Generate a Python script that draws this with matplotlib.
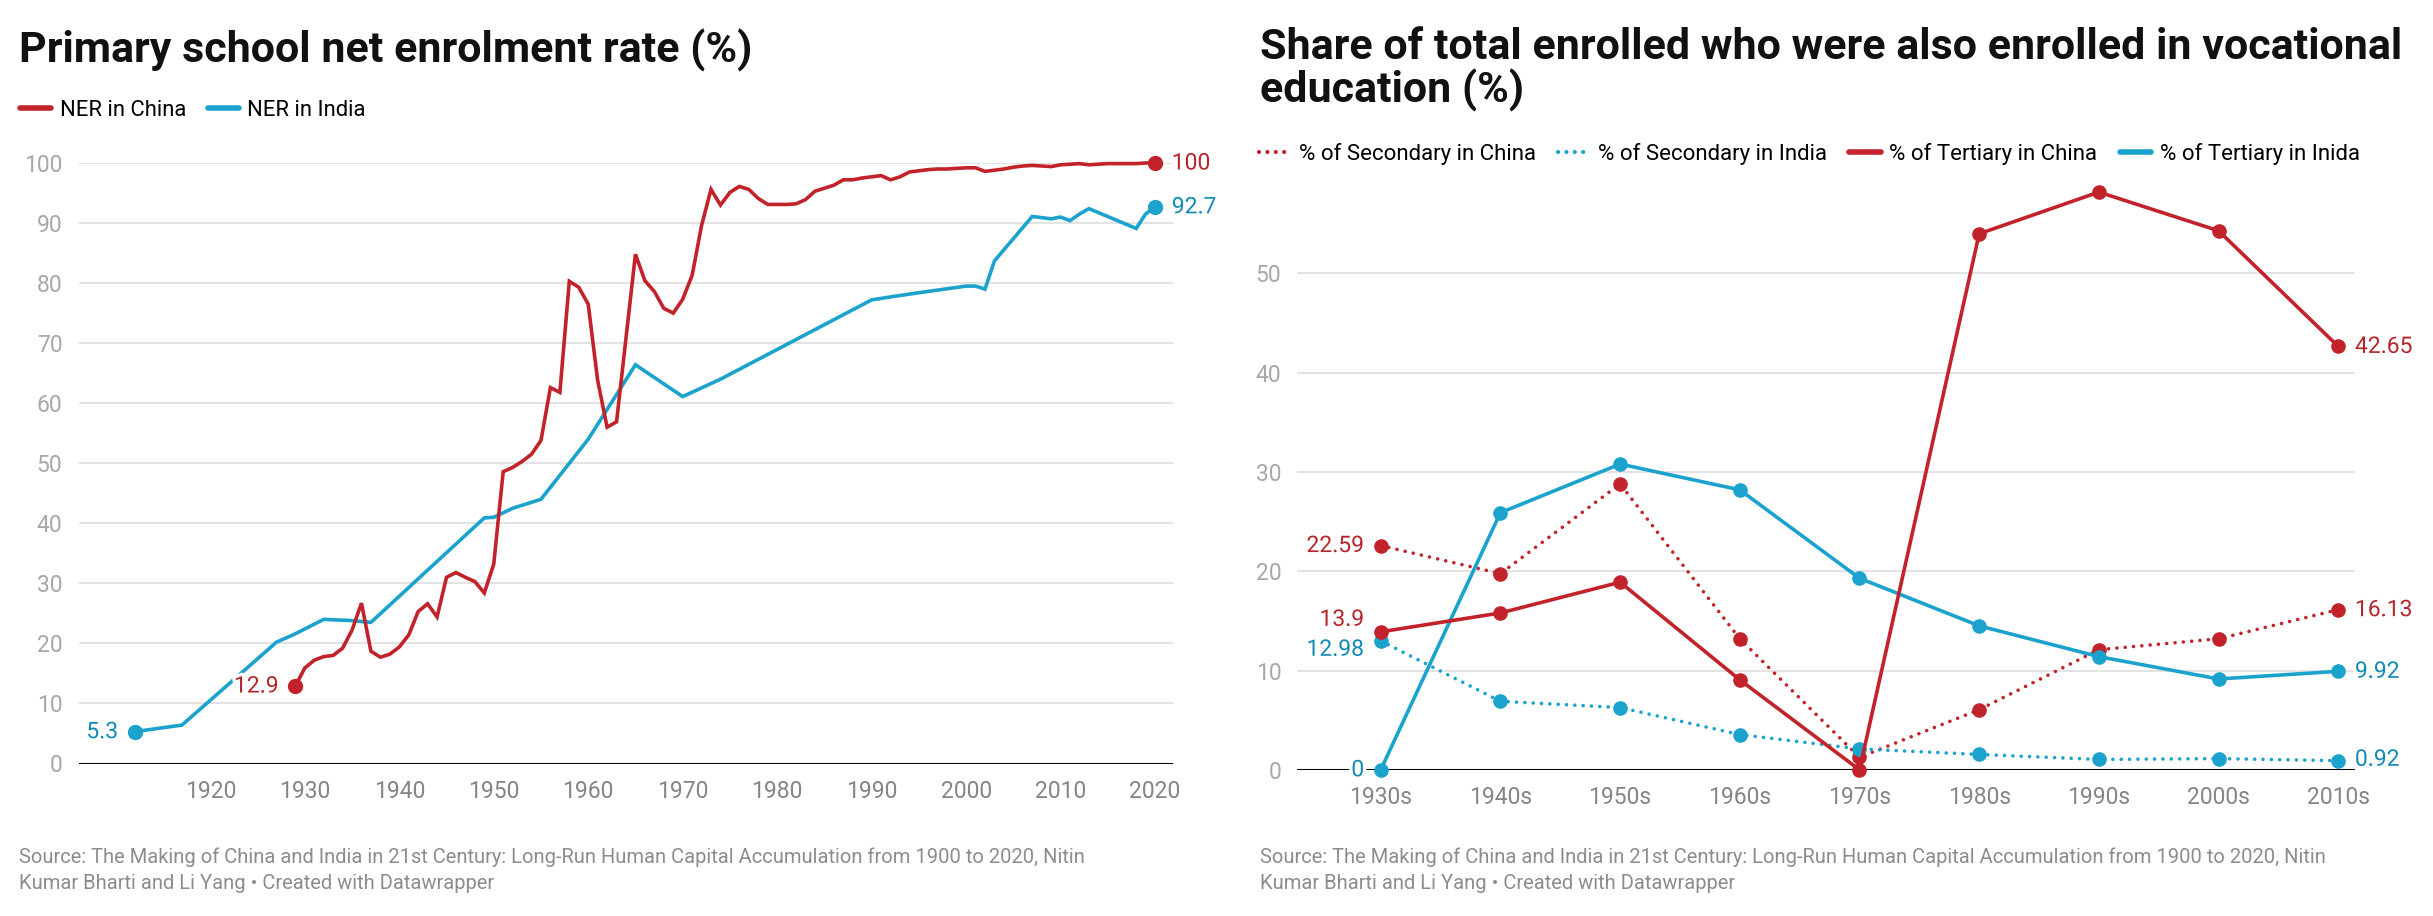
import matplotlib
matplotlib.use("Agg")
import matplotlib.pyplot as plt
import matplotlib.patheffects as pe
from matplotlib.lines import Line2D

# ---- data: primary school net enrolment rate (%) ----
china_years = [1929, 1930, 1931, 1932, 1933, 1934, 1935, 1936, 1937, 1938,
               1939, 1940, 1941, 1942, 1943, 1944, 1945, 1946, 1947, 1948,
               1949, 1950, 1951, 1952, 1953, 1954, 1955, 1956, 1957, 1958,
               1959, 1960, 1961, 1962, 1963, 1965, 1966, 1967, 1968, 1969,
               1970, 1971, 1972, 1973, 1974, 1975, 1976, 1977, 1978, 1979,
               1980, 1981, 1982, 1983, 1984, 1985, 1986, 1987, 1988, 1989,
               1990, 1991, 1992, 1993, 1994, 1995, 1996, 1997, 1998, 1999,
               2000, 2001, 2002, 2003, 2004, 2005, 2006, 2007, 2008, 2009,
               2010, 2011, 2012, 2013, 2014, 2015, 2016, 2017, 2018, 2019,
               2020]
china_ner = [12.9, 15.9, 17.2, 17.8, 18.0, 19.2, 22.2, 26.7, 18.7, 17.7,
             18.2, 19.4, 21.4, 25.3, 26.6, 24.4, 31.0, 31.8, 31.0, 30.3,
             28.4, 33.2, 48.6, 49.3, 50.3, 51.5, 53.8, 62.6, 61.8, 80.3,
             79.3, 76.5, 63.8, 56.0, 56.9, 84.8, 80.4, 78.6, 75.8, 75.0,
             77.3, 81.3, 89.6, 95.6, 93.0, 95.1, 96.1, 95.6, 94.1, 93.1,
             93.1, 93.1, 93.2, 93.9, 95.3, 95.8, 96.3, 97.2, 97.2, 97.5,
             97.7, 97.9, 97.2, 97.7, 98.5, 98.7, 98.9, 99.0, 99.0, 99.1,
             99.2, 99.2, 98.6, 98.8, 99.0, 99.3, 99.5, 99.6, 99.5, 99.4,
             99.7, 99.8, 99.9, 99.7, 99.8, 99.9, 99.9, 99.9, 99.9, 100.0,
             100.0]
india_years = [1912, 1917, 1927, 1929, 1932, 1935, 1937, 1949, 1950, 1952,
               1955, 1960, 1965, 1970, 1974, 1990, 1992, 1995, 2000, 2001,
               2002, 2003, 2007, 2009, 2010, 2011, 2012, 2013, 2018, 2019,
               2020]
india_ner = [5.3, 6.4, 20.2, 21.6, 24.0, 23.8, 23.5, 40.9, 41.0, 42.5,
             44.0, 54.0, 66.4, 61.1, 64.0, 77.2, 77.7, 78.4, 79.5, 79.5,
             79.0, 83.7, 91.1, 90.7, 91.0, 90.4, 91.5, 92.4, 89.1, 91.5,
             92.7]
year_ticks = list(range(1920, 2021, 10))

# ---- data: share enrolled in vocational education (%) ----
decades = ["1930s", "1940s", "1950s", "1960s", "1970s",
           "1980s", "1990s", "2000s", "2010s"]
sec_china = [22.59, 19.76, 28.8, 13.2, 1.25, 6.06, 12.1, 13.2, 16.13]
sec_india = [12.98, 6.9, 6.27, 3.55, 2.1, 1.55, 1.04, 1.13, 0.92]
ter_china = [13.9, 15.8, 18.9, 9.06, 0.0, 54.0, 58.2, 54.3, 42.65]
ter_india = [0.0, 25.9, 30.8, 28.2, 19.3, 14.5, 11.4, 9.15, 9.92]

RED = "#c2232b"
BLUE = "#1ba3cd"
RED_TXT = "#b5262b"
BLUE_TXT = "#128bb3"
GRID = "#e3e3e3"
YTICK = "#a8a8a8"
XTICK = "#858585"
FOOT = "#8c8c8c"

plt.rcParams["font.family"] = ["Roboto", "DejaVu Sans"]

W, H = 2433, 916
fig = plt.figure(figsize=(W / 100, H / 100), dpi=100)


def fx(px):
    return px / W


def fy(py):
    return 1 - py / H


halo = [pe.withStroke(linewidth=5, foreground="white")]


def style_axes(ax, ypad, xpad):
    for s in ax.spines.values():
        s.set_visible(False)
    ax.grid(axis="y", color=GRID, linewidth=1.4)
    ax.set_axisbelow(True)
    ax.axhline(0, color="black", linewidth=2.2, zorder=1.5)
    ax.tick_params(axis="both", length=0)
    ax.tick_params(axis="y", labelsize=16.5, labelcolor=YTICK, pad=ypad)
    ax.tick_params(axis="x", labelsize=16.5, labelcolor=XTICK, pad=xpad)


def label(ax, x, y, text, color, dx, ha, dy=0):
    ax.annotate(text, (x, y), xytext=(dx, dy), textcoords="offset points",
                ha=ha, va="center", fontsize=16.5, color=color,
                path_effects=halo, zorder=6, annotation_clip=False)


def title(x0, lines, y0, step):
    for i, line in enumerate(lines):
        fig.text(fx(x0), fy(y0 + i * step), line, fontsize=31,
                 fontweight="bold", color="#111111", va="baseline")


def footer(x0):
    lines = ["Source: The Making of China and India in 21st Century: "
             "Long-Run Human Capital Accumulation from 1900 to 2020, Nitin",
             "Kumar Bharti and Li Yang \u2022 Created with Datawrapper"]
    for i, line in enumerate(lines):
        fig.text(fx(x0), fy(863 + i * 26), line, fontsize=14.5, color=FOOT,
                 va="baseline")


# ---------------- left chart ----------------
ax1 = fig.add_axes([fx(79), fy(763.5), fx(1173 - 79), (763.5 - 163) / H])
style_axes(ax1, 12, 12)
ax1.set_xlim(1906.1, 2021.9)
ax1.set_ylim(0, 100)
ax1.set_yticks(range(0, 101, 10))
ax1.set_xticks(year_ticks)

ax1.plot(india_years, india_ner, color=BLUE, linewidth=2.6,
         solid_joinstyle="miter", clip_on=False, zorder=3)
ax1.plot(china_years, china_ner, color=RED, linewidth=2.6,
         solid_joinstyle="miter", clip_on=False, zorder=4)
for yrs, vals, c in [(india_years, india_ner, BLUE),
                     (china_years, china_ner, RED)]:
    ax1.plot([yrs[0], yrs[-1]], [vals[0], vals[-1]], "o", color=c,
             markersize=10, clip_on=False, zorder=5)

label(ax1, india_years[0], india_ner[0], "5.3", BLUE_TXT, -12, "right")
label(ax1, china_years[0], china_ner[0], "12.9", RED_TXT, -12, "right")
label(ax1, china_years[-1], china_ner[-1], "100", RED_TXT, 12, "left")
label(ax1, india_years[-1], india_ner[-1], "92.7", BLUE_TXT, 12, "left")

title(19, ["Primary school net enrolment rate (%)"], 62, 43)
leg1 = [Line2D([], [], color=RED, linewidth=4, solid_capstyle="round"),
        Line2D([], [], color=BLUE, linewidth=4, solid_capstyle="round")]
fig.legend(leg1, ["NER in China", "NER in India"], loc="center left",
           bbox_to_anchor=(fx(20), fy(110)), ncol=2, frameon=False,
           fontsize=15.8, handlelength=1.4, handletextpad=0.4,
           columnspacing=1.0, borderpad=0, borderaxespad=0)
footer(19)

# ---------------- right chart ----------------
ax2 = fig.add_axes([fx(1296.6), fy(769.8), fx(2355 - 1296.6), 595.6 / H])
style_axes(ax2, 11, 12)
ax2.set_xlim(-0.703, 8.14)
ax2.set_ylim(0, 60)
ax2.set_yticks(range(0, 51, 10))
xs = list(range(len(decades)))
ax2.set_xticks(xs)
ax2.set_xticklabels(decades)

dots = (0, (0.01, 2.3))
series = [
    (sec_china, RED, dots, 3),
    (sec_india, BLUE, dots, 3),
    (ter_china, RED, "-", 4),
    (ter_india, BLUE, "-", 3.5),
]
for vals, c, ls, z in series:
    ax2.plot(xs, vals, color=c, linewidth=2.6, linestyle=ls,
             dash_capstyle="round", clip_on=False, zorder=z)
    ax2.plot(xs, vals, "o", color=c, markersize=9.5, clip_on=False,
             zorder=z + 0.1)

label(ax2, 0, sec_china[0], "22.59", RED_TXT, -12, "right")
label(ax2, 0, ter_china[0], "13.9", RED_TXT, -12, "right", dy=9)
label(ax2, 0, sec_india[0], "12.98", BLUE_TXT, -12, "right", dy=-6)
label(ax2, 0, ter_india[0], "0", BLUE_TXT, -12, "right")
label(ax2, 8, ter_china[-1], "42.65", RED_TXT, 12, "left")
label(ax2, 8, sec_china[-1], "16.13", RED_TXT, 12, "left")
label(ax2, 8, ter_india[-1], "9.92", BLUE_TXT, 12, "left")
label(ax2, 8, sec_india[-1], "0.92", BLUE_TXT, 12, "left", dy=1)

title(1260, ["Share of total enrolled who were also enrolled in vocational",
             "education (%)"], 59, 43)
leg2 = [Line2D([], [], color=RED, linewidth=3, linestyle=(0, (0.01, 2.0)),
               dash_capstyle="round"),
        Line2D([], [], color=BLUE, linewidth=3, linestyle=(0, (0.01, 2.0)),
               dash_capstyle="round"),
        Line2D([], [], color=RED, linewidth=4, solid_capstyle="round"),
        Line2D([], [], color=BLUE, linewidth=4, solid_capstyle="round")]
fig.legend(leg2, ["% of Secondary in China", "% of Secondary in India",
                  "% of Tertiary in China", "% of Tertiary in Inida"],
           loc="center left", bbox_to_anchor=(fx(1259), fy(154)), ncol=4,
           frameon=False, fontsize=16, handlelength=1.4,
           handletextpad=0.4, columnspacing=1.0, borderpad=0,
           borderaxespad=0)
footer(1260)

fig.savefig("out.png", dpi=100, facecolor="white")
